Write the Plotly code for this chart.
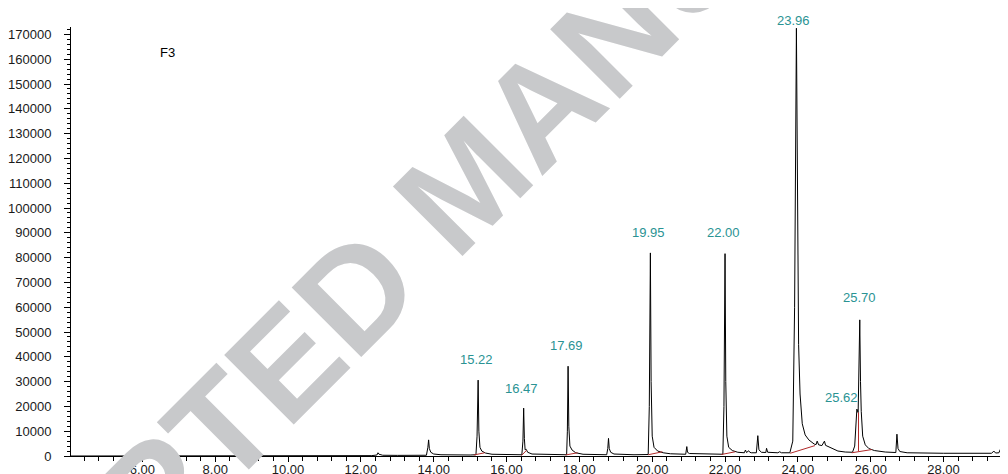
import plotly.graph_objects as go

# ---- chromatogram trace (retention time in min, abundance) ----
time_min = [
    4.04, 8.0, 11.0, 12.30, 12.44, 12.47, 12.50, 12.60, 13.0, 13.80, 13.84, 13.86, 13.88, 13.92,
    14.0, 14.2, 15.0, 15.16, 15.19, 15.22, 15.24, 15.27, 15.32, 15.42, 15.6, 16.0, 16.42, 16.45,
    16.47, 16.49, 16.51, 16.54, 16.58, 16.7, 17.5, 17.65, 17.67, 17.69, 17.71, 17.74, 17.80,
    17.90, 18.1, 18.75, 18.78, 18.80, 18.82, 18.86, 18.95, 19.5, 19.89, 19.92, 19.95, 19.97,
    20.00, 20.05, 20.15, 20.30, 20.5, 20.92, 20.95, 20.97, 21.02, 21.5, 21.94, 21.97, 22.00,
    22.02, 22.05, 22.10, 22.20, 22.35, 22.53, 22.56, 22.59, 22.65, 22.68, 22.72, 22.86, 22.90,
    22.93, 23.0, 23.12, 23.14, 23.17, 23.45, 23.50, 23.55, 23.78, 23.86, 23.91, 23.96, 23.99,
    24.02, 24.06, 24.12, 24.20, 24.30, 24.45, 24.50, 24.53, 24.57, 24.66, 24.73, 24.76, 24.80,
    24.88, 24.96, 25.10, 25.30, 25.50, 25.56, 25.62, 25.655, 25.68, 25.70, 25.72, 25.74,
    25.78, 25.85, 25.95, 26.10, 26.40, 26.69, 26.72, 26.75, 26.80, 27.0, 28.0, 29.32, 29.38,
    29.43, 29.52, 29.56, 29.61, 29.75,
]
signal = [
    0, 0, 100, 150, 400, 1300, 700, 300, 250, 300, 3500, 6500, 3000, 1500,
    800, 500, 400, 500, 8000, 30600, 10000, 3500, 2000, 1200, 700, 500, 500, 6000,
    19300, 7000, 2500, 2700, 1500, 800, 400, 500, 10000, 36200, 12000, 4000, 2400,
    1300, 700, 500, 3000, 7100, 3000, 1500, 800, 500, 600, 20000, 81900, 30000,
    8000, 3500, 2000, 1300, 900, 700, 3800, 1500, 1000, 700, 700, 20000, 81600,
    30000, 8000, 3500, 2200, 1500, 1300, 2400, 1400, 2100, 1500, 1300, 1300, 8200,
    2500, 1500, 1400, 3100, 1500, 1300, 1700, 1300, 1300, 6000, 60000, 172500, 110000,
    45000, 25000, 13000, 8500, 6500, 4800, 4600, 6000, 4500, 4200, 6000, 4300, 4000,
    3500, 2800, 2000, 1600, 1500, 4000, 18900, 17500, 40000, 54900, 30000, 18000,
    8000, 4500, 3000, 2200, 1600, 1400, 8800, 3000, 1800, 1300, 1100, 1100, 2000,
    1200, 1300, 2700, 1200, 1000,
]

# ---- labelled peaks ----
peak_labels = ["15.22", "16.47", "17.69", "19.95", "22.00", "23.96", "25.62", "25.70"]
peak_times = [15.22, 16.47, 17.69, 19.95, 22.00, 23.96, 25.62, 25.70]
peak_heights = [30600, 19300, 36200, 81900, 81600, 172500, 18900, 54900]

# ---- integration baselines (start time, start value, end time, end value) ----
base_t0 = [15.10, 16.41, 17.62, 19.89, 21.90, 23.79, 25.48]
base_v0 = [400, 200, 400, 500, 600, 1100, 1300]
base_t1 = [15.40, 16.55, 17.95, 20.28, 22.28, 24.47, 26.03]
base_v1 = [1300, 2300, 1300, 1700, 1700, 4200, 2600]
drop_t = [25.665, 25.665]
drop_v = [1900, 17600]

# y ticks
y_ticks = list(range(0, 170001, 10000))

# label offsets (pixels) -- style
label_xshift = [-2, -2, -2, -2, -2, -3, -15, 0]
label_yshift = [21, 20, 21, 20, 21, 8, 12, 22]

TEAL = "#2a9393"
RED = "#b02a2a"
FONT = "Liberation Sans, Arial, sans-serif"

fig = go.Figure()

fig.add_trace(go.Scatter(x=time_min, y=signal, mode="lines",
                         line=dict(color="black", width=1), hoverinfo="skip",
                         showlegend=False))

bx, by = [], []
for t0, v0, t1, v1 in zip(base_t0, base_v0, base_t1, base_v1):
    bx += [t0, t1, None]
    by += [v0, v1, None]
bx += drop_t + [None]
by += drop_v + [None]
fig.add_trace(go.Scatter(x=bx, y=by, mode="lines", line=dict(color=RED, width=1),
                         hoverinfo="skip", showlegend=False))

annotations = []
# watermark first so it sits beneath the other texts
annotations.append(dict(x=0.4216, y=0.6364, xref="paper", yref="paper",
                        text="<b>ACCEPTED MANUSCRIPT</b>", showarrow=False,
                        textangle=-45, xanchor="center", yanchor="middle",
                        font=dict(family=FONT, size=143, color="#c8c9cb")))

for lab, t, h, xs, ys in zip(peak_labels, peak_times, peak_heights, label_xshift, label_yshift):
    annotations.append(dict(x=t, y=h, xref="x", yref="y", text=lab, showarrow=False,
                            xshift=xs, yshift=ys, xanchor="center", yanchor="middle",
                            font=dict(family=FONT, size=13, color=TEAL)))

annotations.append(dict(x=0.1025, y=0.9417, xref="paper", yref="paper", text="F3",
                        showarrow=False, xanchor="center", yanchor="middle",
                        font=dict(family=FONT, size=13, color="black")))

# the page adds an 8px body margin, so the figure is 8px smaller and margins shifted
fig.update_layout(
    width=1000, height=466,
    margin=dict(l=63, r=0, t=19, b=18, autoexpand=False),
    paper_bgcolor="white", plot_bgcolor="white",
    annotations=annotations,
    font=dict(family=FONT, size=13, color="#1a1a1a"),
)

fig.update_xaxes(range=[4.04, 29.77], showgrid=False, zeroline=False, automargin=False,
                 showline=True, linecolor="black", linewidth=1,
                 ticks="outside", ticklen=5, tickcolor="black", tickwidth=1,
                 tick0=0, dtick=2, tickformat=".2f", ticklabelstandoff=-4,
                 tickfont=dict(family=FONT, size=13, color="#1a1a1a"),
                 minor=dict(ticks="outside", ticklen=4, tickcolor="black",
                            tick0=0, dtick=0.4, showgrid=False))
fig.update_yaxes(range=[0, 173000], showgrid=False, zeroline=False, automargin=False,
                 showline=True, linecolor="black", linewidth=1,
                 ticks="outside", ticklen=6, tickcolor="black", tickwidth=1,
                 tickvals=y_ticks, ticktext=[str(v) for v in y_ticks],
                 ticklabelstandoff=10,
                 tickfont=dict(family=FONT, size=13, color="#1a1a1a"),
                 minor=dict(ticks="outside", ticklen=3, tickcolor="black",
                            dtick=2000, tick0=0, showgrid=False))

fig.write_html("out.html")
